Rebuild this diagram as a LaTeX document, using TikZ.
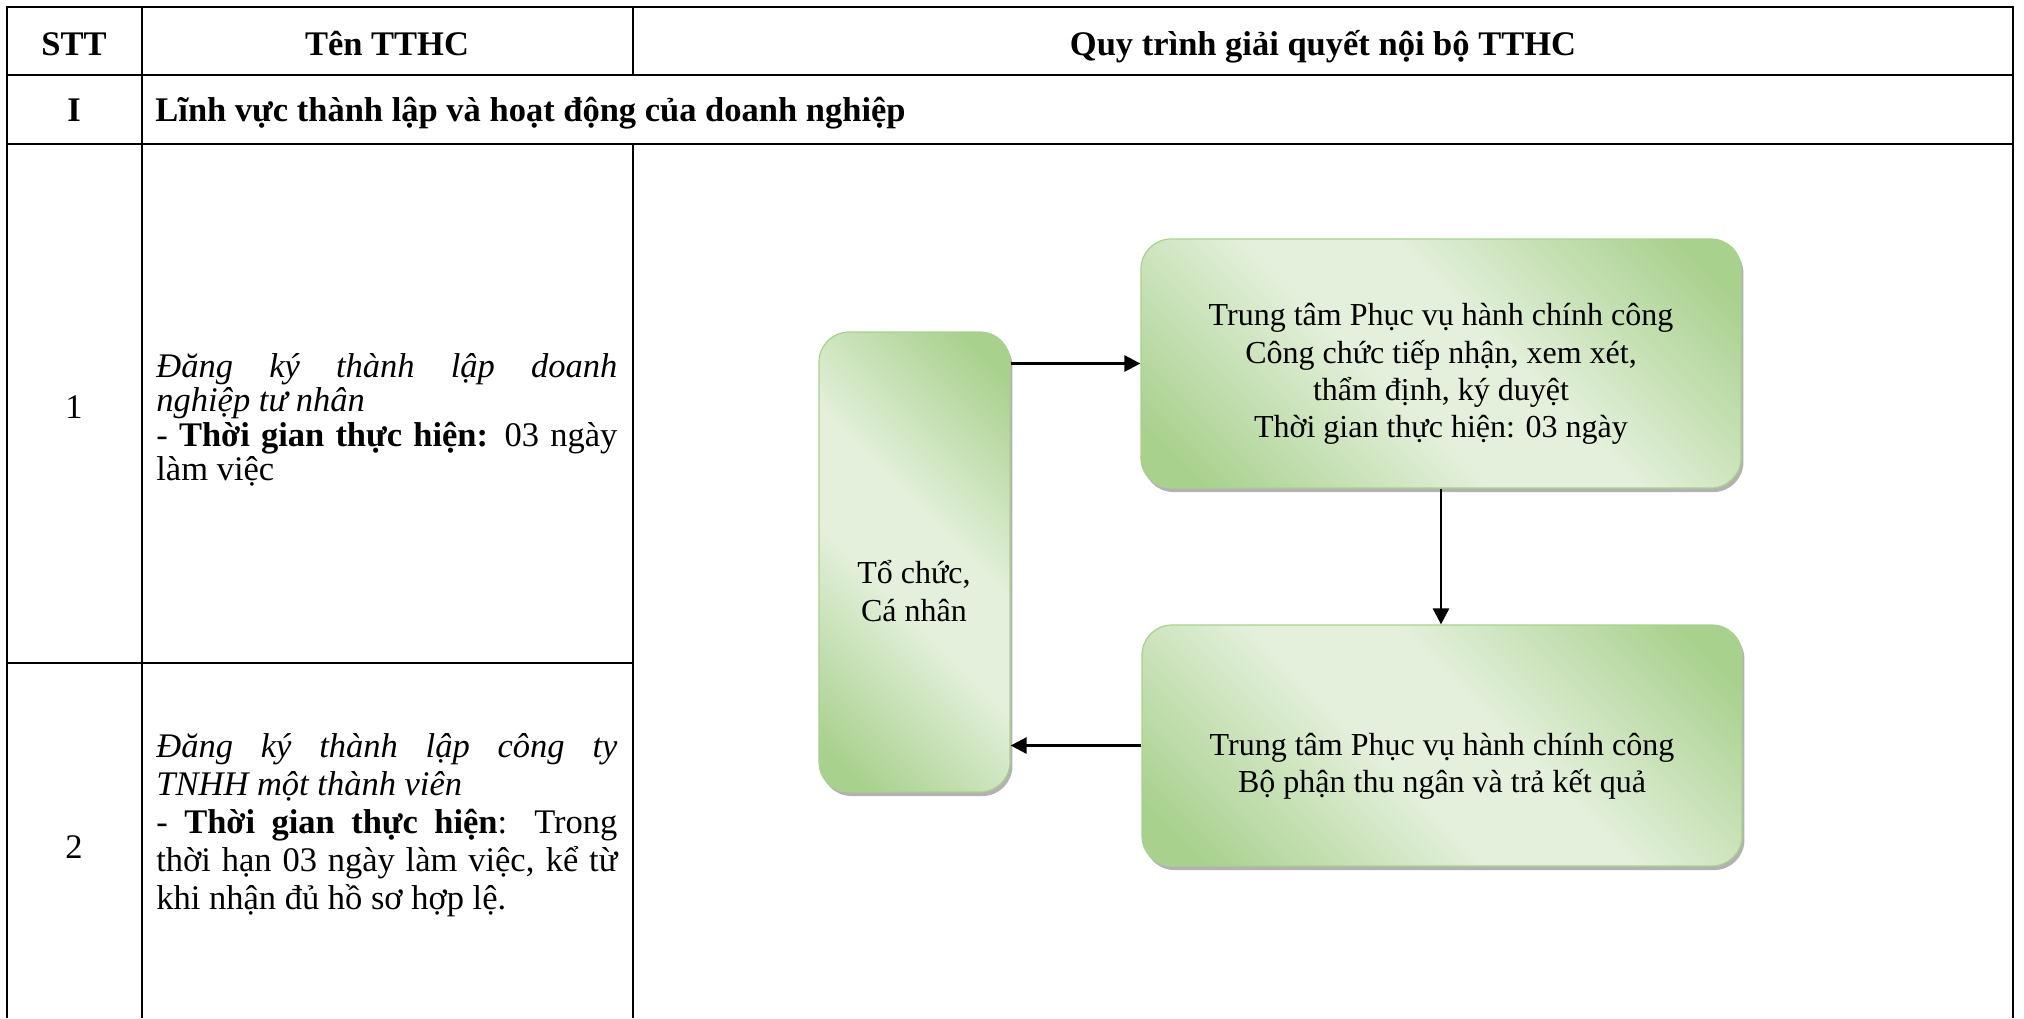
\documentclass[tikz,border=0pt]{standalone}
\usepackage{fontspec}
\setmainfont{Liberation Serif}
\usepackage{tikz}
\usetikzlibrary{arrows.meta}
\usetikzlibrary{fit,shadows,positioning}

\definecolor{gdark}{RGB}{169,209,142}
\definecolor{glight}{RGB}{228,240,220}
\pgfdeclarehorizontalshading{greenglow}{100bp}{color(0bp)=(gdark); color(20bp)=(gdark); color(44bp)=(glight); color(56bp)=(glight); color(80bp)=(gdark); color(100bp)=(gdark)}

\tikzset{
  greenbox/.style={rounded corners=15pt, draw=gdark, line width=0.6pt, shading=greenglow, shading angle=45, inner sep=0pt,
    drop shadow={shadow xshift=1.2pt, shadow yshift=-2pt, fill=black!55, opacity=0.55}},
  boxtext/.style={align=center, inner sep=0pt, font=\fontsize{16}{18.6}\selectfont},
  headtext/.style={inner sep=0pt, anchor=base, font=\fontsize{17.25}{19}\selectfont\bfseries},
  celltext/.style={inner sep=0pt, font=\fontsize{17.25}{19}\selectfont},
  tableline/.style={line width=1.3pt},
  flow/.style={line width=1.3pt, -{Triangle[length=8pt,width=8pt]}}
}
\hyphenpenalty=10000
\exhyphenpenalty=10000

\begin{document}
\begin{tikzpicture}[x=0.5pt, y=-0.5pt]
    \useasboundingbox (0,0) rectangle (2024,1018);

    % table
    \draw[tableline] (7,1018) -- (7,7) -- (2013,7) -- (2013,1018);
    \draw[tableline] (7,75) -- (2013,75);
    \draw[tableline] (7,144) -- (2013,144);
    \draw[tableline] (7,663) -- (633,663);
    \draw[tableline] (142,7) -- (142,1018);
    \draw[tableline] (633,7) -- (633,75);
    \draw[tableline] (633,144) -- (633,1018);

    % header
    \node[headtext] (stt) at (74,55) {STT};
    \node[headtext] (name) at (387,55) {Tên TTHC};
    \node[headtext] (process) at (1323,55) {Quy trình giải quyết nội bộ TTHC};
    \node[headtext] (groupno) at (74,121) {I};
    \node[headtext, anchor=base west] (group) at (155,121) {Lĩnh vực thành lập và hoạt động của doanh nghiệp};

    % rows
    \node[celltext] (rowone) at (74,407) {1};
    \node[celltext, anchor=west, text width=230.5pt, align=justify, font=\fontsize{17.25}{17.2}\selectfont] (procone) at (156,420)
        {\textit{Đăng ký thành lập doanh\linebreak nghiệp tư nhân}\\
         - \textbf{Thời gian thực hiện:} 03 ngày\linebreak làm việc};
    \node[celltext] (rowtwo) at (74,847) {2};
    \node[celltext, anchor=west, text width=230.5pt, align=justify] (proctwo) at (156,825)
        {\textit{Đăng ký thành lập công ty\linebreak TNHH một thành viên}\\
         - \textbf{Thời gian thực hiện}: Trong\linebreak thời hạn 03 ngày làm việc, kể từ\linebreak khi nhận đủ hồ sơ hợp lệ.};

    % boxes
    \node[greenbox, fit={(819,332) (1010,792)}] (applicant) {};
    \node[greenbox, fit={(1141,239) (1741,488)}] (intake) {};
    \node[greenbox, fit={(1142,625) (1742,866)}] (cashier) {};

    \node[boxtext] (applicanttext) at (914,591) {Tổ chức,\\Cá nhân};
    \node[boxtext] (intaketext) at (1441,374) {Trung tâm Phục vụ hành chính công\\Công chức tiếp nhận, xem xét,\\thẩm định, ký duyệt\\Thời gian thực hiện: 03 ngày};
    \node[boxtext] (cashiertext) at (1442,766) {Trung tâm Phục vụ hành chính công\\Bộ phận thu ngân và trả kết quả};

    % arrows
    \draw[flow] (applicant.east |- intake.west) -- (intake.west);
    \draw[flow] (intake.south) -- (intake.south |- cashier.north);
    \draw[flow] (cashier.west) -- (applicant.east |- cashier.west);
\end{tikzpicture}
\end{document}
